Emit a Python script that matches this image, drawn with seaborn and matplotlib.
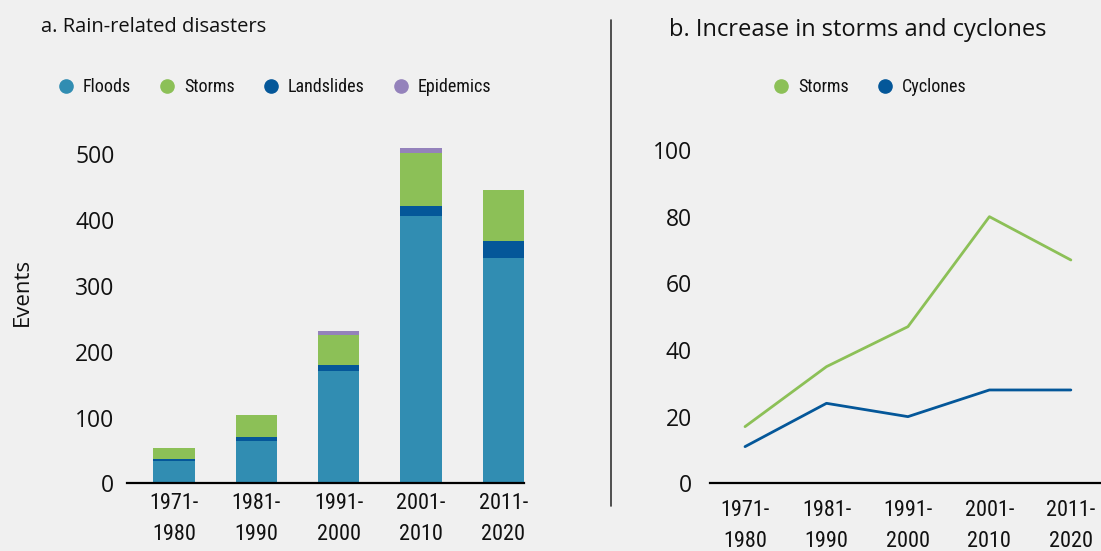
import numpy as np
import matplotlib
matplotlib.use("Agg")
import matplotlib.pyplot as plt
from matplotlib.lines import Line2D
from matplotlib import font_manager
import seaborn as sns

# Data
periods = ["1971-\n1980", "1981-\n1990", "1991-\n2000", "2001-\n2010", "2011-\n2020"]
floods = [34, 64, 170, 406, 343]
landslides = [3, 6, 10, 15, 26]
storms_a = [17, 34, 46, 81, 77]
epidemics = [0, 0, 5, 8, 0]

storms_b = [17, 35, 47, 80, 67]
cyclones_b = [11, 24, 20, 28, 28]

C_FLOOD = "#318db2"
C_STORM = "#8cc057"
C_LAND = "#045799"
C_EPI = "#9482bb"
BG = "#f0f0f0"
INK = "#111111"

sns.set_style("white")
plt.rcParams["font.family"] = ["Open Sans", "DejaVu Sans"]
plt.rcParams["text.color"] = INK
plt.rcParams["xtick.color"] = INK
plt.rcParams["ytick.color"] = INK

# pick a condensed family if one is installed
names = {f.name for f in font_manager.fontManager.ttflist}
NARROW = [n for n in ["Liberation Sans Narrow", "Roboto Condensed", "Open Sans Condensed",
                      "Noto Sans Condensed", "DejaVu Sans Condensed", "Roboto"] if n in names][:1]
NARROW = NARROW + ["DejaVu Sans"]

fig = plt.figure(figsize=(11.01, 5.51), dpi=100, facecolor=BG)
W, H = 1101, 551

def px_axes(x0, x1, ytop, ybot):
    return fig.add_axes([x0 / W, 1 - ybot / H, (x1 - x0) / W, (ybot - ytop) / H])

# ---- panel a: stacked bars ----
ax1 = px_axes(127, 524, 138, 483.3)
ax1.set_facecolor(BG)
f = np.array(floods)
l = f + np.array(landslides)
s = l + np.array(storms_a)
e = s + np.array(epidemics)
x = np.arange(len(periods))
for vals, col in [(e, C_EPI), (s, C_STORM), (l, C_LAND), (f, C_FLOOD)]:
    sns.barplot(x=x, y=vals, color=col, width=0.5, saturation=1,
                linewidth=0, ax=ax1, native_scale=True)
ax1.set_xlim(-0.57, 4.25)
ax1.set_ylim(0, 525)
ax1.set_yticks([0, 100, 200, 300, 400, 500])
ax1.set_xticks(x)
ax1.set_xticklabels(periods, family=NARROW, fontsize=16, linespacing=1.65)
ax1.tick_params(axis="x", length=0, pad=7)
ax1.tick_params(axis="y", length=0, pad=9, labelsize=16.5)
ax1.set_xlabel("")
ax1.set_ylabel("")

# ---- panel b: lines ----
ax2 = px_axes(710, 1101, 140, 483.3)
ax2.set_facecolor(BG)
sns.lineplot(x=x, y=storms_b, color=C_STORM, linewidth=2, ax=ax2)
sns.lineplot(x=x, y=cyclones_b, color=C_LAND, linewidth=2, ax=ax2)
ax2.set_xlim(-0.43, 4.37)
ax2.set_ylim(0, 103)
ax2.set_yticks([0, 20, 40, 60, 80, 100])
ax2.set_xticks(x)
ax2.set_xticklabels(periods, family=NARROW, fontsize=16, linespacing=1.6)
ax2.tick_params(axis="x", length=0, pad=12)
ax2.tick_params(axis="y", length=0, pad=13, labelsize=16.5)

for ax in (ax1, ax2):
    sns.despine(ax=ax, left=True)
    ax.spines["bottom"].set_color("black")
    ax.spines["bottom"].set_linewidth(1.6)
    ax.grid(False)

# titles and labels
fig.text(41 / W, 1 - 27 / H, "a. Rain-related disasters", fontsize=14.5,
         va="center", ha="left")
fig.text(669 / W, 1 - 30 / H, "b. Increase in storms and cyclones", fontsize=17,
         va="center", ha="left")
fig.text(22 / W, 1 - 292 / H, "Events", fontsize=16, rotation=90,
         va="center", ha="center")

# divider
fig.add_artist(Line2D([611 / W, 611 / W], [1 - 20 / H, 1 - 506 / H],
                      color="#333333", linewidth=1.2))

# legends
def handles(labels, cols):
    return [Line2D([], [], marker="o", linestyle="none", markersize=9.5,
                   markerfacecolor=c, markeredgecolor=c, label=n)
            for n, c in zip(labels, cols)]

leg_kw = dict(loc="center", frameon=False, handlelength=0.8, handletextpad=0.55,
              columnspacing=1.6, prop={"family": NARROW, "size": 13})
fig.legend(handles=handles(["Floods", "Storms", "Landslides", "Epidemics"],
                           [C_FLOOD, C_STORM, C_LAND, C_EPI]),
           ncol=4, bbox_to_anchor=(275 / W, 1 - 87 / H), **leg_kw)
fig.legend(handles=handles(["Storms", "Cyclones"], [C_STORM, C_LAND]),
           ncol=2, bbox_to_anchor=(870 / W, 1 - 87 / H), **leg_kw)

fig.savefig("out.png", dpi=100, facecolor=BG)
